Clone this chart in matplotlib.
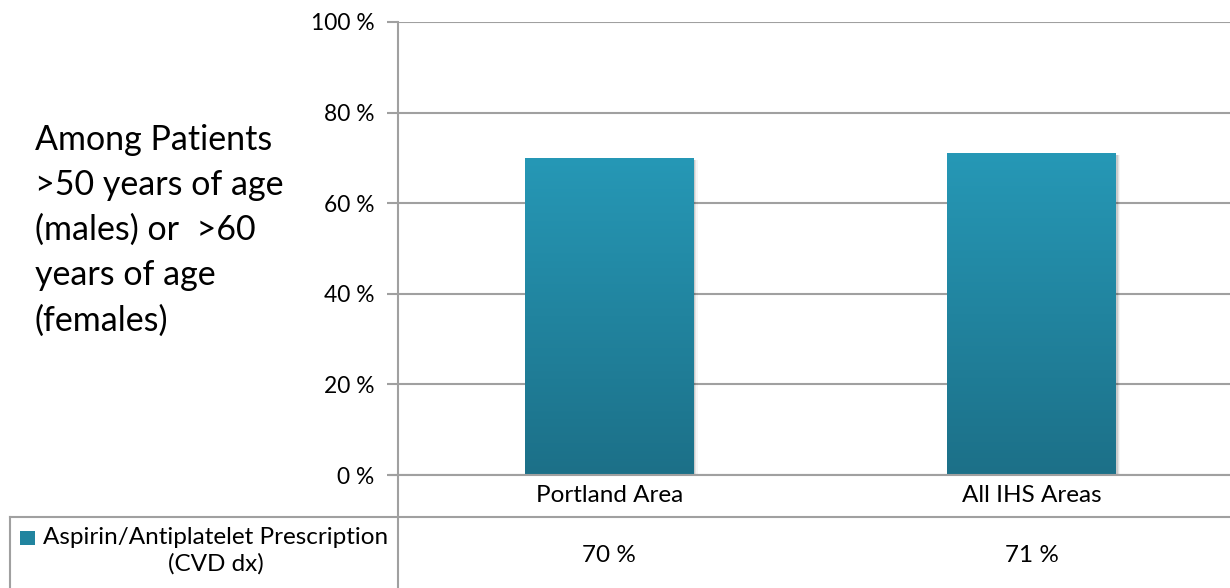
import numpy as np
import matplotlib
matplotlib.use('Agg')
import matplotlib.pyplot as plt
from matplotlib.lines import Line2D
from matplotlib.patches import Rectangle
import matplotlib.transforms as mtrans

# Chart data
categories = ['Portland Area', 'All IHS Areas']
values = [70, 71]
series_name = 'Aspirin/Antiplatelet Prescription\n(CVD dx)'
yticks = [0, 20, 40, 60, 80, 100]
side_text = 'Among Patients\n>50 years of age\n(males) or  >60\nyears of age\n(females)'

W, H = 1230, 588
plt.rcParams['font.family'] = ['Lato', 'DejaVu Sans']

fig = plt.figure(figsize=(W / 100, H / 100), dpi=100)

def fx(x):
    return x / W

def fy(y):
    return 1 - y / H

grid_col = '#a0a0a0'
top_col = np.array([0x26, 0x98, 0xb6]) / 255
bot_col = np.array([0x1c, 0x70, 0x88]) / 255

ax = fig.add_axes([fx(398), fy(475), fx(1243 - 398), (475 - 22) / H])
ax.set_xlim(-0.5, len(categories) - 0.5)
ax.set_ylim(0, 100)
for s in ax.spines.values():
    s.set_visible(False)
ax.set_yticks(yticks)
ax.set_yticklabels([f'{v} %' for v in yticks], fontsize=16.4)
ax.tick_params(axis='y', length=8, width=1.5, color=grid_col, pad=9)
ax.set_xticks(range(len(categories)))
ax.set_xticklabels(categories, fontsize=17.5)
ax.tick_params(axis='x', length=0, pad=7)
ax.grid(axis='y', color=grid_col, lw=1.5)
ax.set_axisbelow(True)

# gradient bars with a soft shadow
grad = np.linspace(0, 1, 256)[:, None]
img = top_col[None, None, :] * (1 - grad[:, :, None]) + bot_col[None, None, :] * grad[:, :, None]
bw = 0.40
for i, v in enumerate(values):
    for k, a in enumerate([0.10, 0.07, 0.04]):
        off = (k + 1) * 0.003
        sh = Rectangle((i - bw / 2 + off, -0.4), bw, v, facecolor='black',
                       alpha=a, lw=0, zorder=2)
        ax.add_patch(sh)
    bar = Rectangle((i - bw / 2, 0), bw, v, facecolor='none', lw=0, zorder=3)
    ax.add_patch(bar)
    im = ax.imshow(img, extent=(i - bw / 2, i + bw / 2, 0, v), aspect='auto',
                   zorder=3, interpolation='bilinear')
    im.set_clip_path(bar)

# axis and table lines
lines = [
    ((390, 475), (W, 475)),
    ((398, 22), (398, H)),
    ((10, 517), (W, 517)),
    ((10, 517), (10, H)),
]
for (x0, y0), (x1, y1) in lines:
    fig.add_artist(Line2D([fx(x0), fx(x1)], [fy(y0), fy(y1)],
                          color=grid_col, lw=1.5, transform=fig.transFigure))

# legend key and series name
fig.add_artist(Rectangle((fx(20), fy(545)), fx(15), 14 / H,
                         facecolor=top_col * 0.5 + bot_col * 0.5, lw=0,
                         transform=fig.transFigure))
fig.text(fx(216), fy(551), series_name, ha='center', va='center',
         fontsize=17.5, linespacing=1.3)

# value row
trans = mtrans.blended_transform_factory(ax.transData, fig.transFigure)
for i, v in enumerate(values):
    ax.text(i, fy(555), f'{v} %', transform=trans, ha='center', va='center',
            fontsize=17.5, clip_on=False)

fig.text(fx(35), fy(230), side_text, ha='left', va='center', fontsize=24.5,
         linespacing=1.5)

fig.savefig('out.png', dpi=100)
